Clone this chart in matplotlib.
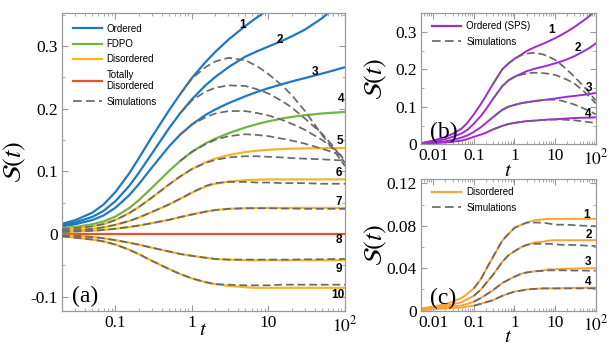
import numpy as np
import matplotlib
matplotlib.use("Agg")
import matplotlib.pyplot as plt
from matplotlib.ticker import FixedLocator, FixedFormatter, LogLocator, NullFormatter, MultipleLocator
from matplotlib.lines import Line2D

plt.rcParams['font.family'] = ['Liberation Serif', 'DejaVu Serif']
plt.rcParams['mathtext.fontset'] = 'stix'

nan = np.nan

# ---------------- Panel (a) data ----------------
ta = [0.02, 0.03, 0.05, 0.07, 0.1, 0.15, 0.2, 0.3, 0.5, 0.7, 1, 1.5, 2, 3, 5, 7, 10, 15, 20, 30, 50, 70, 100]
a1 = [0.016, 0.022, 0.034, 0.047, 0.067, 0.096, 0.120, 0.155, 0.197, 0.223, 0.249, 0.274, 0.290, 0.310, 0.332, 0.345, 0.358, 0.373, 0.385, 0.405, 0.44, 0.47, 0.5]
a2 = [0.014, 0.0184, 0.0273, 0.0368, 0.0523, 0.0761, 0.0967, 0.1284, 0.1684, 0.1925, 0.215, 0.237, 0.250, 0.266, 0.283, 0.291, 0.299, 0.308, 0.315, 0.326, 0.344, 0.359, 0.379]
a3 = [0.012, 0.0155, 0.0222, 0.0295, 0.0419, 0.0613, 0.0788, 0.1061, 0.1394, 0.1584, 0.1747, 0.1897, 0.1984, 0.2086, 0.2197, 0.2263, 0.2325, 0.2388, 0.2431, 0.2487, 0.2558, 0.2606, 0.266]
a4 = [0.009, 0.0111, 0.0155, 0.0199, 0.0277, 0.0409, 0.0534, 0.0737, 0.1003, 0.1164, 0.1311, 0.1443, 0.1518, 0.1606, 0.1699, 0.175, 0.1797, 0.1841, 0.1866, 0.1894, 0.1921, 0.1934, 0.1945]
a5 = [0.0077, 0.0092, 0.0122, 0.0157, 0.0222, 0.0329, 0.0425, 0.058, 0.0788, 0.0916, 0.1035, 0.1142, 0.1199, 0.1257, 0.1306, 0.1327, 0.1342, 0.1354, 0.136, 0.1365, 0.1367, 0.137, 0.137]
a6 = [0.005, 0.006, 0.008, 0.0105, 0.0145, 0.0205, 0.026, 0.035, 0.047, 0.056, 0.066, 0.0755, 0.080, 0.0835, 0.0858, 0.0865, 0.087, 0.087, 0.087, 0.087, 0.087, 0.087, 0.087]
a7 = [0.003, 0.004, 0.005, 0.0063, 0.0083, 0.011, 0.0133, 0.0172, 0.0225, 0.0268, 0.031, 0.0355, 0.038, 0.040, 0.041, 0.0413, 0.0415, 0.0415, 0.0415, 0.0415, 0.0415, 0.0415, 0.0415]
a8 = [0.0] * 23
a9 = [-0.002, -0.003, -0.005, -0.007, -0.010, -0.014, -0.017, -0.022, -0.028, -0.032, -0.035, -0.038, -0.040, -0.041, -0.042, -0.042, -0.042, -0.042, -0.042, -0.042, -0.042, -0.042, -0.042]
a10 = [-0.004, -0.006, -0.009, -0.012, -0.017, -0.025, -0.032, -0.043, -0.056, -0.064, -0.071, -0.077, -0.080, -0.083, -0.085, -0.086, -0.086, -0.086, -0.086, -0.086, -0.086, -0.086, -0.086]

sa1 = [nan] * 9 + [0.223, 0.248, 0.266, 0.275, 0.281, 0.277, 0.268, 0.255, 0.237, 0.222, 0.196, 0.158, 0.135, 0.108]
sa2 = [nan] * 9 + [0.1925, 0.213, 0.227, 0.233, 0.237, 0.236, 0.231, 0.224, 0.212, 0.202, 0.184, 0.160, 0.140, 0.113]
sa3 = [nan] * 9 + [0.1584, 0.1745, 0.186, 0.192, 0.196, 0.196, 0.193, 0.189, 0.182, 0.176, 0.166, 0.150, 0.137, 0.118]
sa4 = [nan] * 9 + [0.1164, 0.131, 0.143, 0.150, 0.156, 0.159, 0.158, 0.156, 0.152, 0.149, 0.144, 0.136, 0.130, 0.124]
sa5 = [0.0077, 0.0092, 0.0122, 0.0157, 0.0222, 0.0329, 0.0425, 0.058, 0.0788, 0.0916, 0.1035, 0.1132, 0.1180, 0.1220, 0.1240, 0.124, 0.123, 0.122, 0.121, 0.120, 0.119, 0.118, 0.117]
sa6 = [0.005, 0.006, 0.008, 0.0105, 0.0145, 0.0205, 0.026, 0.035, 0.047, 0.056, 0.066, 0.0765, 0.081, 0.083, 0.083, 0.082, 0.082, 0.081, 0.081, 0.081, 0.080, 0.080, 0.080]
sa7 = [0.003, 0.004, 0.005, 0.0063, 0.0083, 0.011, 0.0133, 0.0172, 0.0225, 0.0268, 0.031, 0.0355, 0.038, 0.040, 0.041, 0.041, 0.041, 0.0405, 0.0405, 0.040, 0.040, 0.040, 0.040]
sa9 = [-0.002, -0.003, -0.005, -0.007, -0.010, -0.014, -0.017, -0.022, -0.028, -0.032, -0.035, -0.038, -0.040, -0.041, -0.041, -0.041, -0.041, -0.041, -0.041, -0.0405, -0.0405, -0.040, -0.040]
sa10 = [-0.004, -0.006, -0.009, -0.012, -0.017, -0.025, -0.032, -0.043, -0.056, -0.064, -0.071, -0.077, -0.080, -0.081, -0.082, -0.082, -0.082, -0.081, -0.081, -0.081, -0.081, -0.081, -0.081]

# ---------------- Panel (b) / (c) data ----------------
tb = [0.005, 0.01, 0.02, 0.03, 0.05, 0.07, 0.1, 0.15, 0.2, 0.3, 0.5, 0.7, 1, 1.5, 2, 3, 5, 7, 10, 15, 20, 30, 50, 70, 100]
b1 = [0.003, 0.010, 0.020, 0.028, 0.042, 0.058, 0.080, 0.108, 0.130, 0.162, 0.200, 0.215, 0.228, 0.240, 0.249, 0.258, 0.268, 0.275, 0.283, 0.293, 0.301, 0.313, 0.330, 0.342, 0.358]
b2 = [0.002, 0.007, 0.014, 0.020, 0.029, 0.039, 0.055, 0.076, 0.094, 0.122, 0.155, 0.170, 0.180, 0.189, 0.195, 0.201, 0.207, 0.211, 0.216, 0.222, 0.227, 0.235, 0.248, 0.257, 0.269]
b3 = [0.001, 0.004, 0.008, 0.012, 0.018, 0.024, 0.033, 0.046, 0.057, 0.073, 0.092, 0.100, 0.105, 0.110, 0.112, 0.115, 0.118, 0.120, 0.122, 0.125, 0.127, 0.129, 0.132, 0.134, 0.137]
b4 = [0.001, 0.003, 0.005, 0.007, 0.010, 0.014, 0.020, 0.026, 0.031, 0.040, 0.049, 0.054, 0.057, 0.060, 0.062, 0.063, 0.065, 0.066, 0.067, 0.068, 0.069, 0.070, 0.071, 0.071, 0.072]
sb1 = [nan] * 9 + [0.162, 0.200, 0.215, 0.228, 0.238, 0.242, 0.244, 0.240, 0.234, 0.225, 0.210, 0.198, 0.180, 0.155, 0.137, 0.117]
sb2 = [nan] * 9 + [0.122, 0.155, 0.170, 0.180, 0.186, 0.189, 0.191, 0.190, 0.188, 0.185, 0.178, 0.172, 0.162, 0.142, 0.127, 0.109]
sb3 = [nan] * 9 + [0.073, 0.092, 0.100, 0.105, 0.110, 0.112, 0.115, 0.118, 0.119, 0.119, 0.116, 0.112, 0.106, 0.096, 0.089, 0.080]
sb4 = [nan] * 9 + [0.040, 0.049, 0.054, 0.057, 0.060, 0.062, 0.063, 0.065, 0.066, 0.066, 0.066, 0.065, 0.064, 0.061, 0.059, 0.057]

c1 = [0.002, 0.004, 0.006, 0.0085, 0.012, 0.016, 0.021, 0.030, 0.039, 0.051, 0.066, 0.072, 0.078, 0.081, 0.083, 0.085, 0.086, 0.0865, 0.0865, 0.0865, 0.0865, 0.0865, 0.0865, 0.0865, 0.0865]
c2 = [0.001, 0.003, 0.0045, 0.006, 0.008, 0.011, 0.014, 0.020, 0.026, 0.034, 0.046, 0.052, 0.056, 0.060, 0.062, 0.064, 0.065, 0.066, 0.0664, 0.0664, 0.0664, 0.0664, 0.0664, 0.0664, 0.0664]
c3 = [0.001, 0.002, 0.003, 0.004, 0.005, 0.0065, 0.0085, 0.012, 0.015, 0.0195, 0.026, 0.029, 0.032, 0.035, 0.036, 0.037, 0.038, 0.039, 0.039, 0.0393, 0.0395, 0.0397, 0.040, 0.040, 0.040]
c4 = [0.0005, 0.0015, 0.002, 0.0025, 0.003, 0.004, 0.0047, 0.0065, 0.008, 0.010, 0.014, 0.016, 0.018, 0.019, 0.020, 0.0205, 0.021, 0.021, 0.021, 0.0212, 0.0213, 0.0215, 0.0216, 0.0217, 0.0217]
sc1 = [nan] * 6 + [0.021, 0.030, 0.039, 0.051, 0.066, 0.072, 0.078, 0.081, 0.083, 0.083, 0.083, 0.082, 0.081, 0.081, 0.081, 0.0805, 0.080, 0.080, 0.0795]
sc2 = [nan] * 6 + [0.014, 0.020, 0.026, 0.034, 0.046, 0.052, 0.056, 0.060, 0.062, 0.063, 0.063, 0.063, 0.0625, 0.062, 0.062, 0.0618, 0.0615, 0.061, 0.061]
sc3 = [nan] * 6 + [0.0085, 0.012, 0.015, 0.0195, 0.026, 0.029, 0.032, 0.035, 0.036, 0.037, 0.0375, 0.038, 0.038, 0.038, 0.038, 0.0378, 0.0378, 0.0377, 0.0377]
sc4 = [nan] * 6 + [0.0047, 0.0065, 0.008, 0.010, 0.014, 0.016, 0.018, 0.019, 0.020, 0.0205, 0.021, 0.021, 0.021, 0.021, 0.021, 0.021, 0.021, 0.021, 0.021]

# ---------------- style ----------------
BLUE = '#1f78c1'
GREEN = '#72b43f'
YELLOW = '#f2b62c'
RED = '#e8532a'
PURPLE = '#a02ad6'
ORANGE = '#f7a23a'
GRAY = '#696969'
SPINE = '#9a9a9a'
LW = 1.6
SLW = 1.25
DASH = (0, (4.5, 2.2))
SANS = ['Liberation Sans', 'DejaVu Sans']
SERIF = ['Liberation Serif', 'DejaVu Serif']

fig = plt.figure(figsize=(6.09, 3.47), dpi=100)
axA = fig.add_axes([0.1018, 0.1037, 0.4647, 0.858])
axB = fig.add_axes([0.6913, 0.5841, 0.2869, 0.3793])
axC = fig.add_axes([0.6913, 0.1046, 0.2869, 0.3795])


def style_axes(ax, yticks, ylabels, yminor, xticks, xlabels, xlab_y, ylab_x):
    ax.set_xscale('log')
    for s in ax.spines.values():
        s.set_color(SPINE)
        s.set_linewidth(0.9)
    ax.xaxis.set_major_locator(FixedLocator(xticks))
    ax.xaxis.set_major_formatter(FixedFormatter(xlabels))
    ax.xaxis.set_minor_locator(LogLocator(base=10, subs=np.arange(2, 10), numticks=20))
    ax.xaxis.set_minor_formatter(NullFormatter())
    ax.yaxis.set_major_locator(FixedLocator(yticks))
    ax.yaxis.set_major_formatter(FixedFormatter(ylabels))
    ax.yaxis.set_minor_locator(MultipleLocator(yminor))
    ax.tick_params(which='both', direction='in', top=True, right=True, color=SPINE,
                   labelsize=12.5, pad=3)
    ax.tick_params(which='major', length=4, width=0.8)
    ax.tick_params(which='minor', length=2, width=0.6)
    for lab in ax.get_xticklabels() + ax.get_yticklabels():
        lab.set_family(SERIF)
    ax.set_xlabel('$t$', fontsize=15, va='center')
    ax.xaxis.set_label_coords(0.5, xlab_y)
    ax.set_ylabel(r'$\mathcal{S}(t)$', fontsize=19, va='center')
    ax.yaxis.set_label_coords(ylab_x, 0.5)


# ---------------- Panel (a) ----------------
for y, c in [(a1, BLUE), (a2, BLUE), (a3, BLUE), (a4, GREEN), (a5, YELLOW), (a6, YELLOW),
             (a7, YELLOW), (a8, RED), (a9, YELLOW), (a10, YELLOW)]:
    axA.plot(ta, y, color=c, lw=LW, zorder=2)
for s in [sa1, sa2, sa3, sa4, sa5, sa6, sa7, sa9, sa10]:
    axA.plot(ta, s, color=GRAY, lw=SLW, ls=DASH, zorder=3)
axA.set_xlim(0.02, 100)
axA.set_ylim(-0.123, 0.352)
style_axes(axA, [-0.1, 0, 0.1, 0.2, 0.3], ['-0.1', '0', '0.1', '0.2', '0.3'], 0.05,
           [0.1, 1, 10, 100], ['0.1', '1', '10', '$10^2$'], -0.066, -0.168)
axA.text(0.035, 0.03, '(a)', transform=axA.transAxes, fontsize=17, family=SERIF)

num_a = [('1', 4.6, 0.334), ('2', 13.9, 0.310), ('3', 40, 0.259), ('4', 90, 0.216),
         ('5', 85, 0.148), ('6', 84, 0.097), ('7', 84, 0.051), ('8', 84, -0.010),
         ('9', 84, -0.056), ('10', 80, -0.097)]
for s, x, y in num_a:
    axA.text(x, y, s, fontsize=8.5, fontweight='bold', family=SANS, ha='center', va='center')

handles_a = [Line2D([], [], color=BLUE, lw=LW), Line2D([], [], color=GREEN, lw=LW),
             Line2D([], [], color=YELLOW, lw=LW), Line2D([], [], color=RED, lw=LW),
             Line2D([], [], color=GRAY, lw=SLW, ls=(0, (5, 2.5)))]
labels_a = ['Ordered', 'FDPO', 'Disordered', 'Totally\nDisordered', 'Simulations']
axA.legend(handles_a, labels_a, loc='upper left', bbox_to_anchor=(0.02, 0.985), frameon=False,
           prop={'family': SANS, 'size': 7}, handlelength=2.9, handletextpad=0.5,
           labelspacing=0.55, borderaxespad=0.2)

# ---------------- Panel (b) ----------------
for y in [b1, b2, b3, b4]:
    axB.plot(tb, y, color=PURPLE, lw=LW - 0.2, zorder=2)
for s in [sb1, sb2, sb3, sb4]:
    axB.plot(tb, s, color=GRAY, lw=SLW, ls=DASH, zorder=3)
axB.set_xlim(0.005, 100)
axB.set_ylim(0, 0.351)
style_axes(axB, [0, 0.1, 0.2, 0.3], ['0', '0.1', '0.2', '0.3'], 0.05,
           [0.01, 0.1, 1, 10, 100], ['0.01', '0.1', '1', '10', '$10^2$'], -0.205, -0.26)
axB.text(0.05, 0.05, '(b)', transform=axB.transAxes, fontsize=17, family=SERIF)
for s, x, y in [('1', 8.3, 0.305), ('2', 37, 0.256), ('3', 68, 0.149), ('4', 66, 0.082)]:
    axB.text(x, y, s, fontsize=8.5, fontweight='bold', family=SANS, ha='center', va='center')
handles_b = [Line2D([], [], color=PURPLE, lw=LW), Line2D([], [], color=GRAY, lw=SLW, ls=(0, (5, 2.5)))]
axB.legend(handles_b, ['Ordered (SPS)', 'Simulations'], loc='upper left', bbox_to_anchor=(0.03, 0.98),
           frameon=False, prop={'family': SANS, 'size': 7}, handlelength=3.0, handletextpad=0.5,
           labelspacing=0.55, borderaxespad=0.2)

# ---------------- Panel (c) ----------------
for y in [c1, c2, c3, c4]:
    axC.plot(tb, y, color=ORANGE, lw=LW - 0.2, zorder=2)
for s in [sc1, sc2, sc3, sc4]:
    axC.plot(tb, s, color=GRAY, lw=SLW, ls=DASH, zorder=3)
axC.set_xlim(0.005, 100)
axC.set_ylim(0, 0.124)
style_axes(axC, [0, 0.04, 0.08, 0.12], ['0', '0.04', '0.08', '0.12'], 0.02,
           [0.01, 0.1, 1, 10, 100], ['0.01', '0.1', '1', '10', '$10^2$'], -0.205, -0.26)
axC.text(0.05, 0.05, '(c)', transform=axC.transAxes, fontsize=17, family=SERIF)
for s, x, y in [('1', 60, 0.090), ('2', 66, 0.071), ('3', 66, 0.0456), ('4', 66, 0.0267)]:
    axC.text(x, y, s, fontsize=8.5, fontweight='bold', family=SANS, ha='center', va='center')
handles_c = [Line2D([], [], color=ORANGE, lw=LW), Line2D([], [], color=GRAY, lw=SLW, ls=(0, (5, 2.5)))]
axC.legend(handles_c, ['Disordered', 'Simulations'], loc='upper left', bbox_to_anchor=(0.03, 0.98),
           frameon=False, prop={'family': SANS, 'size': 7}, handlelength=3.0, handletextpad=0.5,
           labelspacing=0.55, borderaxespad=0.2)

fig.savefig('out.png', dpi=100)
